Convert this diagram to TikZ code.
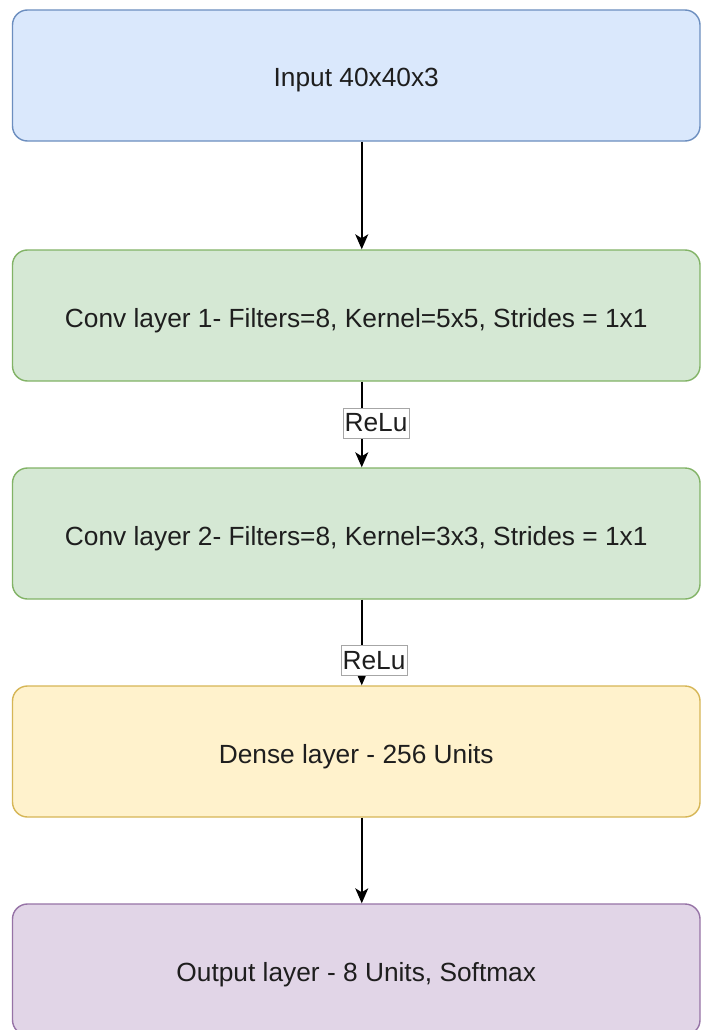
\documentclass[tikz,border=0pt]{standalone}
\usepackage{fontspec}
\setmainfont{Liberation Sans}
\usetikzlibrary{arrows.meta}
\definecolor{blueF}{HTML}{DAE8FC}\definecolor{blueS}{HTML}{6C8EBF}
\definecolor{greenF}{HTML}{D5E8D4}\definecolor{greenS}{HTML}{82B366}
\definecolor{yellowF}{HTML}{FFF2CC}\definecolor{yellowS}{HTML}{D6B656}
\definecolor{purpleF}{HTML}{E1D5E7}\definecolor{purpleS}{HTML}{9673A6}
\definecolor{txt}{HTML}{1E1E1E}
\tikzset{
  layer/.style={rectangle, rounded corners=15pt, line width=1.4pt,
    minimum width=687.5pt, minimum height=131pt, inner sep=0pt,
    text height=23pt, text depth=0pt,
    font=\fontsize{26.3}{30}\selectfont, text=txt},
  flow/.style={line width=1.6pt, -{Stealth[length=15pt,width=13pt,inset=4pt]}},
  relu/.style={rectangle, fill=white, draw=black!35, line width=0.8pt,
    minimum width=66pt, minimum height=30pt, inner sep=0pt,
    font=\fontsize{26.3}{30}\selectfont, text=txt}
}
\begin{document}
\begin{tikzpicture}[x=1pt,y=-1pt]
  \useasboundingbox (0,0) rectangle (702,1030);
  \clip (0,0) rectangle (702,1030);
  \fill[white] (0,0) rectangle (702,1030);

  \node[layer, fill=blueF, draw=blueS]     (in)  at (356.25,75.5)  {Input 40x40x3};
  \node[layer, fill=greenF, draw=greenS]   (c1)  at (356.25,315.5) {Conv layer 1- Filters=8, Kernel=5x5, Strides = 1x1};
  \node[layer, fill=greenF, draw=greenS]   (c2)  at (356.25,533.5) {Conv layer 2- Filters=8, Kernel=3x3, Strides = 1x1};
  \node[layer, fill=yellowF, draw=yellowS] (dn)  at (356.25,751.5) {Dense layer - 256 Units};
  \node[layer, fill=purpleF, draw=purpleS] (out) at (356.25,969.5) {Output layer - 8 Units, Softmax};

  \draw[flow] ([xshift=5.5pt]in.south) -- ([xshift=5.5pt]c1.north);
  \draw[flow] ([xshift=5.5pt]c1.south) -- ([xshift=5.5pt]c2.north);
  \draw[flow] ([xshift=5.5pt]c2.south) -- ([xshift=5.5pt]dn.north);
  \draw[flow] ([xshift=5.5pt]dn.south) -- ([xshift=5.5pt]out.north);

  \node[relu] (r1) at (376,423) {ReLu};
  \node[relu] (r2) at (374,660.5) {ReLu};
\end{tikzpicture}
\end{document}
